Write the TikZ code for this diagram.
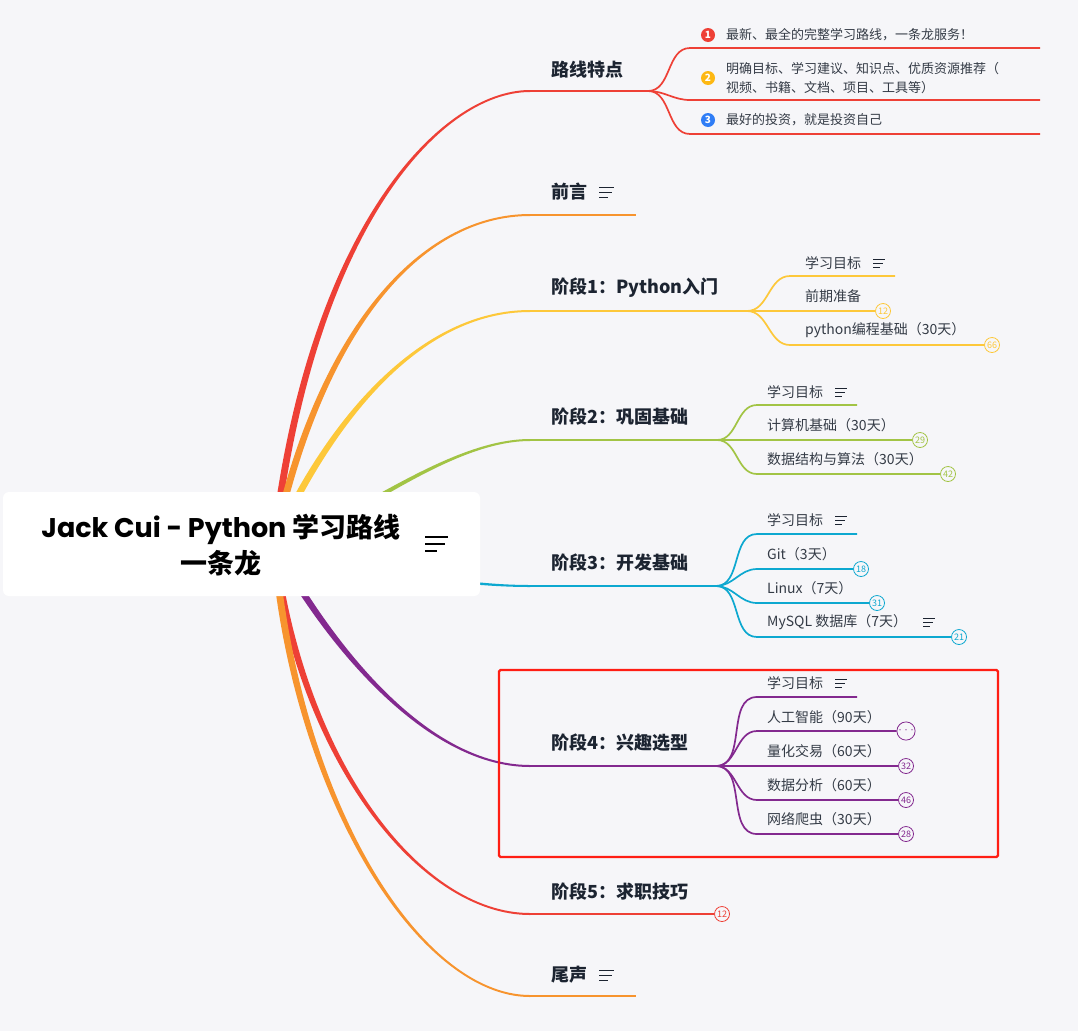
\documentclass[tikz,border=0pt]{standalone}
\usepackage{fontspec}
\setmainfont{Noto Sans CJK SC}
\newfontfamily\enfont{Poppins}
\usetikzlibrary{calc}
\definecolor{bg}{HTML}{F6F6F9}
\definecolor{ink}{HTML}{1C2431}
\definecolor{subink}{HTML}{343B46}
\definecolor{mred}{HTML}{EE4036}
\definecolor{morange}{HTML}{F7942E}
\definecolor{myellow}{HTML}{FDC83A}
\definecolor{mgreen}{HTML}{A2C445}
\definecolor{mcyan}{HTML}{0DA8D0}
\definecolor{mpurple}{HTML}{83298F}
\definecolor{hilite}{HTML}{FF1E14}
\definecolor{nblue}{HTML}{2F7DF6}
\definecolor{nyellow}{HTML}{FDB813}

% tapered main branch: colour, from, to, control 1, control 2
\newcommand{\mainbranch}[5]{%
  \fill[#1] let \p1=(#2), \p2=(#4), \n1={atan2((\y2)-(\y1),(\x2)-(\x1))} in
    ($(\p1)+(\n1+90:3.5pt)$) .. controls ($(\p2)+(\n1+90:3.5pt)$) and ($(#5)+(0,-1)$) .. ($(#3)+(0,-1)$)
    -- ($(#3)+(0,1)$) .. controls ($(#5)+(0,1)$) and ($(\p2)+(\n1-90:3.5pt)$) .. ($(\p1)+(\n1-90:3.5pt)$) -- cycle;}

\begin{document}
\begin{tikzpicture}[x=1pt,y=-1pt,
  topic/.style={anchor=west,inner sep=0,text=ink,font=\bfseries\fontsize{18}{20}\selectfont},
  leaf/.style={anchor=west,inner sep=0,text=subink,font=\fontsize{14}{19}\selectfont},
  feat/.style={anchor=west,inner sep=0,text=subink,font=\fontsize{13}{19}\selectfont},
  rootbox/.style={fill=white,rounded corners=6,minimum width=477,minimum height=104,inner sep=0},
  badge/.style={circle,draw=#1,fill=bg,text=#1,line width=0.8,inner sep=0,minimum size=15,font=\fontsize{9}{9}\selectfont},
  bullet/.style={circle,fill=#1,text=white,inner sep=0,minimum size=14,font=\bfseries\fontsize{10}{10}\selectfont},
  line/.style={line width=2},
  twig/.style={line width=1.7},
  note/.pic={\draw[ink,line width=0.8] (0,-4)--(12,-4) (0,0)--(10,0) (0,4)--(7,4);},
  bignote/.pic={\draw[ink,line width=1] (0,-5)--(15,-5) (0,0)--(13,0) (0,5)--(8.5,5);},
  rootnote/.pic={\draw[black,line width=2] (0,-7)--(23,-7) (0,0)--(20,0) (0,7)--(12,7);}
]
\fill[bg] (0,0) rectangle (1078,1031);
\useasboundingbox (0,0) rectangle (1078,1031);

\coordinate (hub) at (274,544);
% main branches
\coordinate (t0in) at (530,91);
\coordinate (t1in) at (530,215);
\coordinate (t2in) at (530,311);
\coordinate (t3in) at (530,440);
\coordinate (t4in) at (530,586);
\coordinate (t5in) at (530,766);
\coordinate (t6in) at (530,914);
\coordinate (t7in) at (530,996);
\mainbranch{mred}{hub}{t0in}{310,230}{440,91}
\mainbranch{morange}{hub}{t1in}{320,330}{420,215}
\mainbranch{myellow}{hub}{t2in}{330,420}{420,311}
\mainbranch{mgreen}{hub}{t3in}{330,540}{440,440}
\mainbranch{mcyan}{hub}{t4in}{330,560}{440,586}
\mainbranch{mpurple}{hub}{t5in}{320,630}{420,766}
\mainbranch{mred}{hub}{t6in}{300,760}{420,914}
\mainbranch{morange}{hub}{t7in}{295,800}{420,996}

% root
\node[rootbox] (root) at (241.5,544) {};
\node[align=center,text=black,font=\bfseries\fontsize{27}{36}\selectfont] (title) at (221,545) {{\enfont Jack Cui - Python} 学习路线\\一条龙};
\pic at (425,544) {rootnote};

% 路线特点
\node[topic] (t0) at (551,70) {路线特点};
\coordinate (f0) at (648,91);
\draw[mred,line] (t0in) -- (f0);
\coordinate (c01) at (690,48);  \coordinate (e01) at (1040,48);
\coordinate (c02) at (690,100); \coordinate (e02) at (1040,100);
\coordinate (c03) at (690,134); \coordinate (e03) at (1040,134);
\foreach \i in {01,02,03}{
  \draw[mred,twig] (f0) to[out=0,in=180] (c\i) -- (e\i);
}
\node[bullet=mred] (n1) at (708,35) {1};
\node[bullet=nyellow] (n2) at (708,78) {2};
\node[bullet=nblue] (n3) at (708,120) {3};
\node[feat] (l01) at (726,35) {最新、最全的完整学习路线，一条龙服务！};
\node[feat,align=left] (l02) at (726,78) {明确目标、学习建议、知识点、优质资源推荐（\\视频、书籍、文档、项目、工具等）};
\node[feat] (l03) at (726,120) {最好的投资，就是投资自己};

% 前言
\node[topic] (t1) at (551,192) {前言};
\pic at (599,192) {bignote};
\coordinate (e1) at (636,215);
\draw[morange,line] (t1in) -- (e1);

% 阶段1
\node[topic] (t2) at (551,288) {阶段1：Python入门};
\coordinate (f2) at (747,311);
\draw[myellow,line] (t2in) -- (f2);
\coordinate (c21) at (790,276); \coordinate (e21) at (895,276);
\coordinate (c22) at (790,311);
\coordinate (c23) at (790,345);
\node[badge=myellow] (b22) at (883,311) {12};
\node[badge=myellow] (b23) at (992,345) {66};
\draw[myellow,twig] (f2) to[out=0,in=180] (c21) -- (e21);
\draw[myellow,twig] (f2) to[out=0,in=180] (c22) -- (b22);
\draw[myellow,twig] (f2) to[out=0,in=180] (c23) -- (b23);
\node[leaf] (l21) at (805,263) {学习目标};
\pic at (873,263) {note};
\node[leaf] (l22) at (805,296) {前期准备};
\node[leaf] (l23) at (805,330) {python编程基础（30天）};

% 阶段2
\node[topic] (t3) at (551,417) {阶段2：巩固基础};
\coordinate (f3) at (717,440);
\draw[mgreen,line] (t3in) -- (f3);
\coordinate (c31) at (757,405); \coordinate (e31) at (857,405);
\coordinate (c32) at (757,440);
\coordinate (c33) at (757,474);
\node[badge=mgreen] (b32) at (920,440) {29};
\node[badge=mgreen] (b33) at (948,474) {42};
\draw[mgreen,twig] (f3) to[out=0,in=180] (c31) -- (e31);
\draw[mgreen,twig] (f3) to[out=0,in=180] (c32) -- (b32);
\draw[mgreen,twig] (f3) to[out=0,in=180] (c33) -- (b33);
\node[leaf] (l31) at (767,392) {学习目标};
\pic at (835,392) {note};
\node[leaf] (l32) at (767,425) {计算机基础（30天）};
\node[leaf] (l33) at (767,459) {数据结构与算法（30天）};

% 阶段3
\node[topic] (t4) at (551,563) {阶段3：开发基础};
\coordinate (f4) at (716,586);
\draw[mcyan,line] (t4in) -- (f4);
\coordinate (c41) at (757,534); \coordinate (e41) at (857,534);
\coordinate (c42) at (757,569);
\coordinate (c43) at (757,603);
\coordinate (c44) at (757,637);
\node[badge=mcyan] (b42) at (861,569) {18};
\node[badge=mcyan] (b43) at (877,603) {31};
\node[badge=mcyan] (b44) at (959,637) {21};
\draw[mcyan,twig] (f4) to[out=0,in=180] (c41) -- (e41);
\foreach \i in {2,3,4}{
  \draw[mcyan,twig] (f4) to[out=0,in=180] (c4\i) -- (b4\i);
}
\node[leaf] (l41) at (767,520) {学习目标};
\pic at (835,520) {note};
\node[leaf] (l42) at (767,554) {Git（3天）};
\node[leaf] (l43) at (767,588) {Linux（7天）};
\node[leaf] (l44) at (767,622) {MySQL 数据库（7天）};
\pic at (923,622) {note};

% 阶段4
\draw[hilite,line width=2.4,rounded corners=1.5] (499,670) rectangle (998,857);
\node[topic] (t5) at (551,743) {阶段4：兴趣选型};
\coordinate (f5) at (716,766);
\draw[mpurple,line] (t5in) -- (f5);
\coordinate (c51) at (757,697); \coordinate (e51) at (857,697);
\coordinate (c52) at (757,731);
\coordinate (c53) at (757,766);
\coordinate (c54) at (757,800);
\coordinate (c55) at (757,834);
\node[badge=mpurple] (b52) at (906,731) {\fontsize{6}{6}\selectfont···};
\node[badge=mpurple] (b53) at (906,766) {32};
\node[badge=mpurple] (b54) at (906,800) {46};
\node[badge=mpurple] (b55) at (906,834) {28};
\draw[mpurple,twig] (f5) to[out=0,in=180] (c51) -- (e51);
\foreach \i in {2,3,4,5}{
  \draw[mpurple,twig] (f5) to[out=0,in=180] (c5\i) -- (b5\i);
}
\node[leaf] (l51) at (767,683) {学习目标};
\pic at (835,683) {note};
\node[leaf] (l52) at (767,717) {人工智能（90天）};
\node[leaf] (l53) at (767,751) {量化交易（60天）};
\node[leaf] (l54) at (767,785) {数据分析（60天）};
\node[leaf] (l55) at (767,819) {网络爬虫（30天）};

% 阶段5
\node[topic] (t6) at (551,892) {阶段5：求职技巧};
\node[badge=mred] (b6) at (722,914) {12};
\draw[mred,line] (t6in) -- (b6);

% 尾声
\node[topic] (t7) at (551,975) {尾声};
\pic at (599,975) {bignote};
\coordinate (e7) at (636,996);
\draw[morange,line] (t7in) -- (e7);
\end{tikzpicture}
\end{document}
